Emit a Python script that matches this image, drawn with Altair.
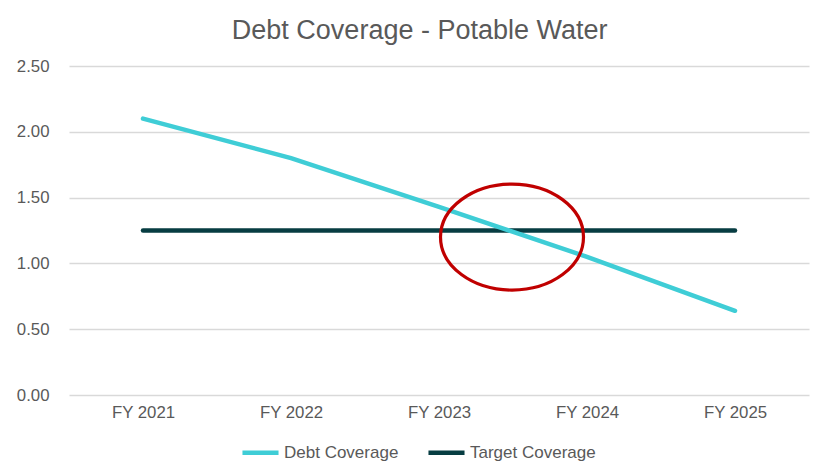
import altair as alt
import pandas as pd

# ---- data ----
categories = ["FY 2021", "FY 2022", "FY 2023", "FY 2024", "FY 2025"]
debt_coverage = [2.10, 1.80, 1.43, 1.05, 0.64]
target_coverage = [1.25, 1.25, 1.25, 1.25, 1.25]
series_names = ["Debt Coverage", "Target Coverage"]
series_colors = ["#3FCDD6", "#073D42"]
highlight_category = ["FY 2023"]
highlight_value = [1.20]
y_ticks = [0.0, 0.5, 1.0, 1.5, 2.0, 2.5]

FONT = "Liberation Sans"
TEXT = "#595959"

rows = []
# target first so the debt line is drawn on top of it
for name, vals in [(series_names[1], target_coverage), (series_names[0], debt_coverage)]:
    for c, v in zip(categories, vals):
        rows.append({"Year": c, "Value": v, "Series": name})
df = pd.DataFrame(rows)
hl = pd.DataFrame({"Year": highlight_category, "Value": highlight_value})

x_enc = alt.X(
    "Year:N",
    sort=categories,
    scale=alt.Scale(domain=categories, padding=0.5),
    axis=alt.Axis(title=None, domain=False, ticks=False, grid=False, labelAngle=0,
                  labelPadding=9, labelFontSize=16.8, labelColor=TEXT, labelFont=FONT),
)
y_enc = alt.Y(
    "Value:Q",
    scale=alt.Scale(domain=[0, 2.5], nice=False, zero=True),
    axis=alt.Axis(title=None, values=y_ticks, format=".2f", domain=False, ticks=False,
                  gridColor="#D9D9D9", gridWidth=1.3, labelPadding=20,
                  labelFontSize=16.8, labelColor=TEXT, labelFont=FONT),
)

lines = alt.Chart(df).mark_line(strokeWidth=4.5, strokeCap="round").encode(
    x=x_enc,
    y=y_enc,
    color=alt.Color(
        "Series:N",
        scale=alt.Scale(domain=series_names, range=series_colors),
        legend=alt.Legend(title=None, orient="none", legendX=171, legendY=366,
                          direction="horizontal", symbolType="stroke",
                          symbolStrokeWidth=4.5, symbolSize=1300, labelFontSize=17,
                          labelColor=TEXT, labelFont=FONT, labelOffset=3,
                          columnPadding=20),
    ),
)

ellipse_path = "M -1 0 A 1 0.741 0 1 0 1 0 A 1 0.741 0 1 0 -1 0 Z"
ellipse = alt.Chart(hl).mark_point(
    shape=ellipse_path, size=20449, filled=False, color="#C00000",
    strokeWidth=3.2, opacity=1, xOffset=73,
).encode(x=x_enc, y=y_enc)

chart = (
    alt.layer(lines, ellipse)
    .properties(
        width=740,
        height=329,
        background="white",
        padding={"left": 8, "top": 9, "right": 4, "bottom": 5},
        title=alt.TitleParams(
            "Debt Coverage - Potable Water", fontSize=27, font=FONT, fontWeight="normal",
            color=TEXT, anchor="middle", frame="bounds", offset=13, dx=7,
        ),
    )
    .configure_axis(domain=False, ticks=False)
    .configure_view(strokeWidth=0, stroke="transparent")
)

chart.save("out.html", embed_options={"renderer": "svg", "actions": False})
